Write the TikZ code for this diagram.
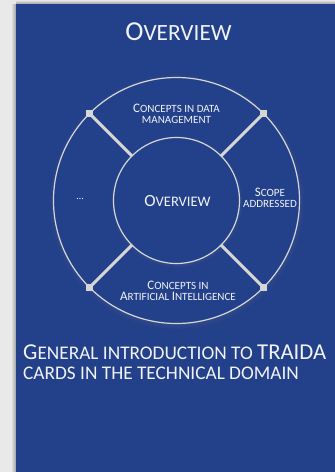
\documentclass[tikz,border=0pt]{standalone}
\usepackage{fontspec}
\setmainfont{Carlito}
\usepackage{graphicx}
\usetikzlibrary{shadows}

\definecolor{cardblue}{HTML}{23408A}
\definecolor{pagegray}{HTML}{E9E9E9}
\definecolor{linegray}{HTML}{D6D6D6}
\definecolor{txtwhite}{HTML}{F2F3F7}

% fake small capitals
\newcommand{\smc}[1]{\scalebox{0.85}{#1}}

\begin{document}
\begin{tikzpicture}[x=1pt,y=-1pt,
ring/.style={circle, draw=linegray, line width=1.2pt, fill=cardblue, minimum size=246pt, inner sep=0pt, outer sep=0pt,
  circular drop shadow={shadow scale=1.04, shadow xshift=0pt, shadow yshift=-1pt, opacity=0.45}},
hub/.style={circle, draw=linegray, line width=1.2pt, fill=cardblue, minimum size=126pt, inner sep=0pt, outer sep=0pt,
  circular drop shadow={shadow scale=1.05, shadow xshift=0pt, shadow yshift=-1pt, opacity=0.35}},
spoke/.style={draw=linegray, line width=3pt},
knob/.style={rectangle, fill=linegray, minimum size=7pt, inner sep=0pt},
sector/.style={text=txtwhite, align=center, inner sep=0pt, font=\fontsize{13}{11}\selectfont}]

\useasboundingbox (0,0) rectangle (335,472);
\fill[pagegray] (0,0) rectangle (335,472);
\shade[left color=pagegray, right color=gray!75] (11,4) rectangle (16,472);
\shade[top color=pagegray, bottom color=gray!75] (16,0) rectangle (335,4);
\fill[cardblue] (16,4) rectangle (335,472);

\draw (178.5,31.5) node[text=txtwhite, inner sep=0pt, font=\fontsize{27.4}{30}\selectfont] (T) {O\smc{VERVIEW}};

\draw (176.5,200.5) node[ring] (R) {};
\draw (176.5,200.5) node[hub] (H) {};
\draw[spoke] (H.45) -- (R.45);
\draw[spoke] (H.135) -- (R.135);
\draw[spoke] (H.225) -- (R.225);
\draw[spoke] (H.315) -- (R.315);
\draw (R.45) node[knob] (K1) {};
\draw (R.135) node[knob] (K2) {};
\draw (R.225) node[knob] (K3) {};
\draw (R.315) node[knob] (K4) {};

\draw (177.5,201.5) node[sector, font=\fontsize{17.1}{20}\selectfont] (OV) {O\smc{VERVIEW}};
\draw (176.5,113.7) node[sector] (DM) {C\smc{ONCEPTS IN DATA}\\\smc{MANAGEMENT}};
\draw (270,198) node[sector] (SA) {S\smc{COPE}\\\smc{ADDRESSED}};
\draw (178,290.7) node[sector] (AI) {C\smc{ONCEPTS IN}\\A\smc{RTIFICIAL }I\smc{NTELLIGENCE}};
\draw (80,199) node[sector, font=\fontsize{10}{12}\selectfont] (DOTS) {\ldots};

\draw (23,362.5) node[anchor=west, text=txtwhite, align=left, inner sep=0pt, font=\fontsize{22.7}{20}\selectfont] (INTRO) {G\smc{ENERAL INTRODUCTION TO }TRAIDA\\\smc{CARDS IN THE TECHNICAL DOMAIN}};
\end{tikzpicture}
\end{document}
